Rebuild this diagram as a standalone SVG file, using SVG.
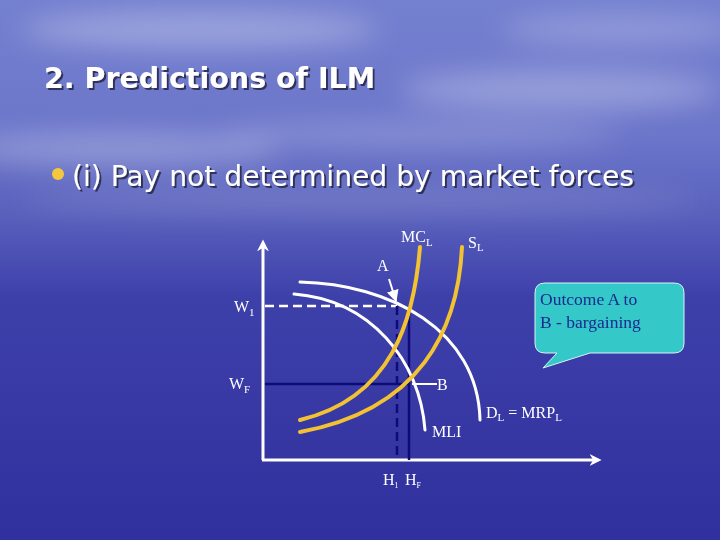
<svg xmlns="http://www.w3.org/2000/svg" width="720" height="540" viewBox="0 0 720 540">
<defs>
<linearGradient id="bg" x1="0" y1="0" x2="0" y2="1">
<stop offset="0" stop-color="#7480d0"/>
<stop offset="0.25" stop-color="#6c76ca"/>
<stop offset="0.4" stop-color="#5860bc"/>
<stop offset="0.55" stop-color="#3e40aa"/>
<stop offset="1" stop-color="#30309e"/>
</linearGradient>
<filter id="blur" x="-50%" y="-50%" width="200%" height="200%"><feGaussianBlur stdDeviation="14"/></filter>
<filter id="sh"><feDropShadow dx="2" dy="2" stdDeviation="0.6" flood-color="#202040" flood-opacity="0.8"/></filter>
<marker id="ah" viewBox="0 0 10 10" refX="9" refY="5" markerWidth="6" markerHeight="6" orient="auto"><path d="M0,0 L10,5 L0,10 z" fill="#ffffff"/></marker>
<marker id="axh" viewBox="0 0 10 10" refX="7" refY="5" markerWidth="4" markerHeight="4" orient="auto"><path d="M0,0 L10,5 L0,10 L3,5 z" fill="#ffffff"/></marker>
<style>
.lbl{font-family:"Liberation Serif",serif;fill:#ffffff;font-size:16px}
.s{font-size:11px}
.yel{fill:none;stroke:#f2c232;stroke-width:4;stroke-linecap:round}
.wht{fill:none;stroke:#ffffff;stroke-width:3;stroke-linecap:round}
.navy{stroke:#0c0c78;stroke-width:2.5;fill:none}
</style>
</defs>
<rect width="720" height="540" fill="url(#bg)"/>
<g filter="url(#blur)" fill="#ffffff">
<ellipse cx="200" cy="30" rx="180" ry="18" opacity="0.3"/>
<ellipse cx="560" cy="90" rx="160" ry="20" opacity="0.28"/>
<ellipse cx="120" cy="150" rx="160" ry="16" opacity="0.28"/>
<ellipse cx="420" cy="135" rx="200" ry="14" opacity="0.18"/>
<ellipse cx="360" cy="200" rx="340" ry="12" opacity="0.16"/>
<ellipse cx="620" cy="30" rx="120" ry="16" opacity="0.22"/>
</g>
<g id="title"><text x="44" y="88" font-family="DejaVu Sans Condensed, DejaVu Sans, sans-serif" font-weight="bold" font-size="28" fill="#ffffff" filter="url(#sh)" textLength="331" lengthAdjust="spacingAndGlyphs">2. Predictions of ILM</text></g>
<g id="bullet">
<circle cx="58" cy="174" r="6" fill="#f4c83a"/>
<text x="72" y="186" font-family="DejaVu Sans Condensed, DejaVu Sans, sans-serif" font-size="29" fill="#ffffff" filter="url(#sh)" textLength="562" lengthAdjust="spacingAndGlyphs">(i) Pay not determined by market forces</text>
</g>
<g id="connectors">
<line x1="263" y1="460" x2="263" y2="243" stroke="#ffffff" stroke-width="3" marker-end="url(#axh)"/>
<line x1="262" y1="460" x2="598" y2="460" stroke="#ffffff" stroke-width="3" marker-end="url(#axh)"/>
<line x1="265" y1="306" x2="397" y2="306" stroke="#ffffff" stroke-width="2.5" stroke-dasharray="9,5"/>
<line x1="397" y1="306" x2="397" y2="460" class="navy" stroke-dasharray="9,5"/>
<line x1="265" y1="384" x2="409" y2="384" class="navy"/>
<line x1="409" y1="312" x2="409" y2="460" class="navy"/>
<line x1="412" y1="384" x2="437" y2="384" stroke="#ffffff" stroke-width="2"/>
<line x1="389" y1="279" x2="396" y2="301" stroke="#ffffff" stroke-width="2" marker-end="url(#ah)"/>
</g>
<g id="curves">
<path id="dl" class="wht" d="M300,282 C390,284 478,330 480,420"/>
<path id="mli" class="wht" d="M294,294 C370,300 420,360 425,430"/>
<path id="mcl" class="yel" d="M420,247 C414,320 392,398 300,420"/>
<path id="sl" class="yel" d="M462,247 C458,330 420,410 300,432"/>
</g>
<g id="labels">
<text class="lbl" x="401" y="242">MC<tspan class="s" dy="4">L</tspan></text>
<text class="lbl" x="468" y="248">S<tspan class="s" dy="3">L</tspan></text>
<text class="lbl" x="377" y="271">A</text>
<text class="lbl" x="234" y="312" font-size="14">W<tspan class="s" dy="4">1</tspan></text>
<text class="lbl" x="229" y="389" font-size="14">W<tspan class="s" dy="4">F</tspan></text>
<text class="lbl" x="437" y="390">B</text>
<text class="lbl" x="432" y="437">MLI</text>
<text class="lbl" x="486" y="418">D<tspan class="s" dy="3">L</tspan><tspan dy="-3"> = MRP</tspan><tspan class="s" dy="3">L</tspan></text>
<text class="lbl" x="383" y="485" font-size="12">H<tspan font-size="8" dy="3">1</tspan></text>
<text class="lbl" x="405" y="485" font-size="12">H<tspan font-size="8" dy="3">F</tspan></text>
</g>
<g id="callout">
<path d="M545,283 H674 Q684,283 684,293 V343 Q684,353 674,353 H590 L543,368 L557,353 H545 Q535,353 535,343 V293 Q535,283 545,283 Z" fill="#34c8c8" stroke="#d8f4f4" stroke-width="1"/>
<text x="540" y="305" font-family="Liberation Serif, serif" font-size="17.5" fill="#1a2a90">Outcome A to</text>
<text x="540" y="328" font-family="Liberation Serif, serif" font-size="17.5" fill="#1a2a90">B - bargaining</text>
</g>
</svg>
